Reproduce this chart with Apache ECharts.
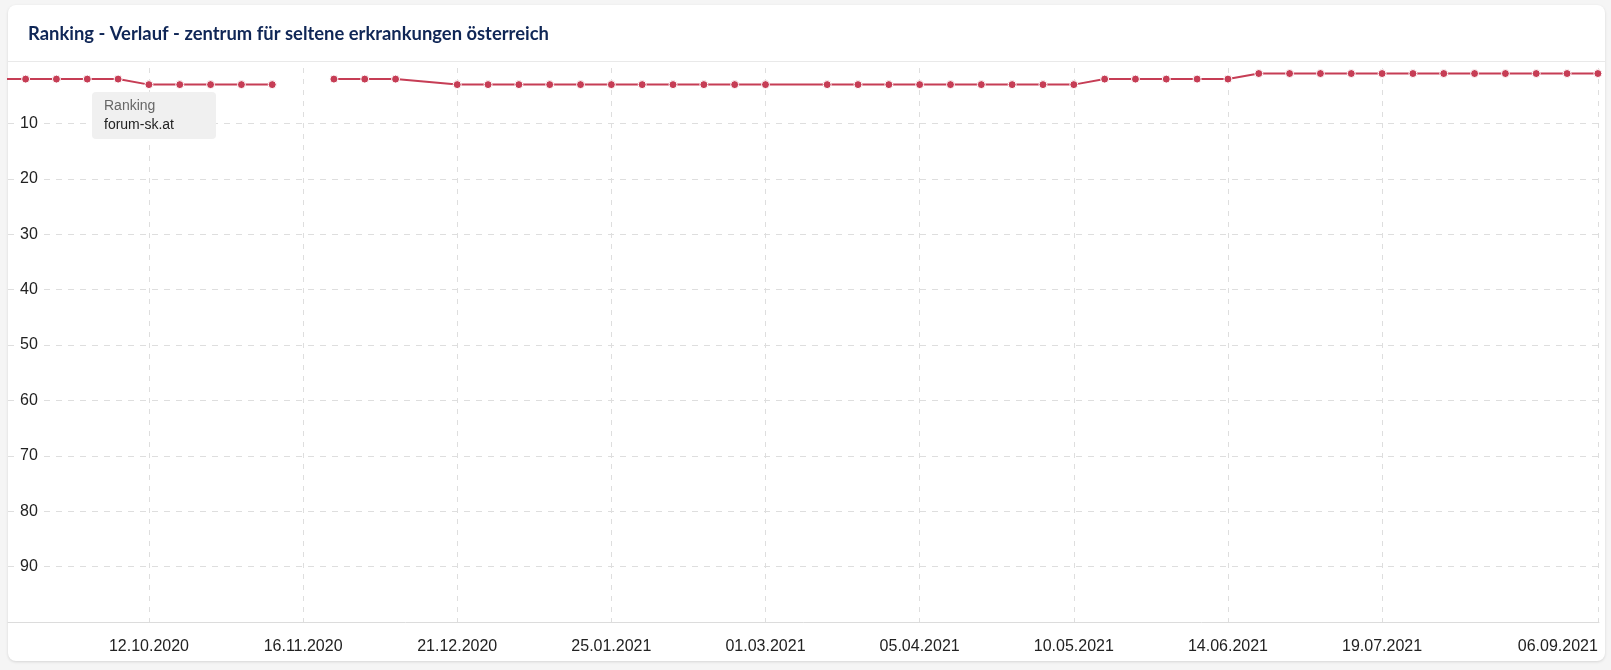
<!DOCTYPE html>
<html>
<head>
<meta charset="utf-8">
<script src="https://cdn.jsdelivr.net/npm/echarts@6/dist/echarts.min.js"></script>
<style>
html, body { margin: 0; padding: 0; background: #f5f5f5; width: 1611px; height: 670px; overflow: hidden; }
#card { position: absolute; left: 8px; top: 5px; width: 1597px; height: 656px; background: #fff; border-radius: 8px; box-shadow: 0 1px 3px rgba(0,0,0,0.13); }
#sep { position: absolute; left: 8px; top: 61px; width: 1597px; height: 1px; background: #e9e9e9; }
#chart { position: absolute; left: 0; top: 0; width: 1611px; height: 670px; }
</style>
</head>
<body>
<div id="card"></div>
<div id="sep"></div>
<div id="chart"></div>
<script>
// ---- data ----
const chartTitle = 'Ranking - Verlauf - zentrum für seltene erkrankungen österreich';
const legendTitle = 'Ranking';
const seriesName = 'forum-sk.at';

const weekDates = [
  '07.09.2020', '14.09.2020', '21.09.2020', '28.09.2020', '05.10.2020',
  '12.10.2020', '19.10.2020', '26.10.2020', '02.11.2020', '09.11.2020',
  '16.11.2020', '23.11.2020', '30.11.2020', '07.12.2020',
  '21.12.2020', '28.12.2020', '04.01.2021', '11.01.2021', '18.01.2021',
  '25.01.2021', '01.02.2021', '08.02.2021', '15.02.2021', '22.02.2021',
  '01.03.2021', '15.03.2021', '22.03.2021', '29.03.2021', '05.04.2021',
  '12.04.2021', '19.04.2021', '26.04.2021', '03.05.2021', '10.05.2021',
  '17.05.2021', '24.05.2021', '31.05.2021', '07.06.2021', '14.06.2021',
  '21.06.2021', '28.06.2021', '05.07.2021', '12.07.2021', '19.07.2021',
  '26.07.2021', '02.08.2021', '09.08.2021', '16.08.2021', '23.08.2021',
  '30.08.2021', '06.09.2021', '13.09.2021'
];
const rankValues = [
  2, 2, 2, 2, 2,
  3, 3, 3, 3, 3,
  null, 2, 2, 2,
  3, 3, 3, 3, 3,
  3, 3, 3, 3, 3,
  3, 3, 3, 3, 3,
  3, 3, 3, 3, 3,
  2, 2, 2, 2, 2,
  1, 1, 1, 1, 1,
  1, 1, 1, 1, 1,
  1, 1, 1
];
const xTickLabels = [
  '12.10.2020', '16.11.2020', '21.12.2020', '25.01.2021', '01.03.2021',
  '05.04.2021', '10.05.2021', '14.06.2021', '19.07.2021', '06.09.2021'
];
const yTickLabels = [10, 20, 30, 40, 50, 60, 70, 80, 90];
const xAxisStart = '10.09.2020';
const xAxisEnd = '06.09.2021';
const yAxisMin = 0;
const yAxisMax = 100;

// ---- helpers ----
function parseDate(s) {
  const p = s.split('.').map(Number);
  return Date.UTC(p[2], p[1] - 1, p[0]);
}
function formatDate(v) {
  const d = new Date(Math.round(v / 3600000) * 3600000);
  const pad = n => String(n).padStart(2, '0');
  return pad(d.getUTCDate()) + '.' + pad(d.getUTCMonth() + 1) + '.' + d.getUTCFullYear();
}

const xTicks = xTickLabels.map(parseDate);
const seriesData = weekDates.map((d, i) => [parseDate(d), rankValues[i] === null ? '-' : rankValues[i]]);

const lineColor = '#c63d55';
const labelFont = 'Liberation Sans, Arial, sans-serif';

const chart = echarts.init(document.getElementById('chart'), null, { renderer: 'canvas' });
chart.setOption({
  animation: false,
  backgroundColor: 'transparent',
  title: [
    {
      text: chartTitle,
      left: 28,
      top: 25,
      padding: 0,
      textStyle: { fontFamily: 'Lato, sans-serif', fontWeight: 700, fontSize: 18.4, color: '#0f2656' }
    },
    {
      text: legendTitle,
      subtext: seriesName,
      left: 92,
      top: 92,
      backgroundColor: '#f0f0f0',
      borderRadius: 4,
      padding: [5, 42, 5, 12],
      itemGap: 1,
      textStyle: { fontFamily: labelFont, fontWeight: 'normal', fontSize: 14, color: '#666', lineHeight: 18 },
      subtextStyle: { fontFamily: labelFont, fontSize: 14, color: '#222', lineHeight: 18 }
    }
  ],
  grid: { left: 8, right: 12, top: 68, bottom: 48, containLabel: false, outerBoundsMode: 'none' },
  xAxis: {
    type: 'value',
    min: parseDate(xAxisStart),
    max: parseDate(xAxisEnd) + 6 * 3600000,
    axisLine: { show: true, onZero: false, lineStyle: { color: '#dcdcdc', width: 1 } },
    axisTick: { show: false, customValues: xTicks },
    axisLabel: {
      customValues: xTicks,
      formatter: formatDate,
      color: '#222',
      fontSize: 16,
      fontFamily: labelFont,
      margin: 17,
      alignMaxLabel: 'right'
    },
    splitLine: { show: true, lineStyle: { type: [5, 6], color: '#dedede', width: 1 } }
  },
  yAxis: {
    type: 'value',
    inverse: true,
    min: yAxisMin,
    max: yAxisMax,
    interval: 10,
    axisLine: { show: false },
    axisTick: { show: false, customValues: yTickLabels },
    axisLabel: {
      inside: true,
      customValues: yTickLabels,
      color: '#222',
      fontSize: 16,
      fontFamily: labelFont,
      margin: 10,
      backgroundColor: '#fff',
      padding: [0, 5, 0, 2]
    },
    splitLine: { show: true, lineStyle: { type: [6, 6], color: '#dedede', width: 1 } }
  },
  series: [
    {
      type: 'line',
      name: seriesName,
      data: seriesData,
      connectNulls: false,
      clip: true,
      symbol: 'circle',
      symbolSize: 8,
      showAllSymbol: true,
      lineStyle: { color: lineColor, width: 2 },
      itemStyle: { color: lineColor, borderColor: '#fff', borderWidth: 1 },
      emphasis: { disabled: true }
    }
  ]
});
</script>
</body>
</html>
